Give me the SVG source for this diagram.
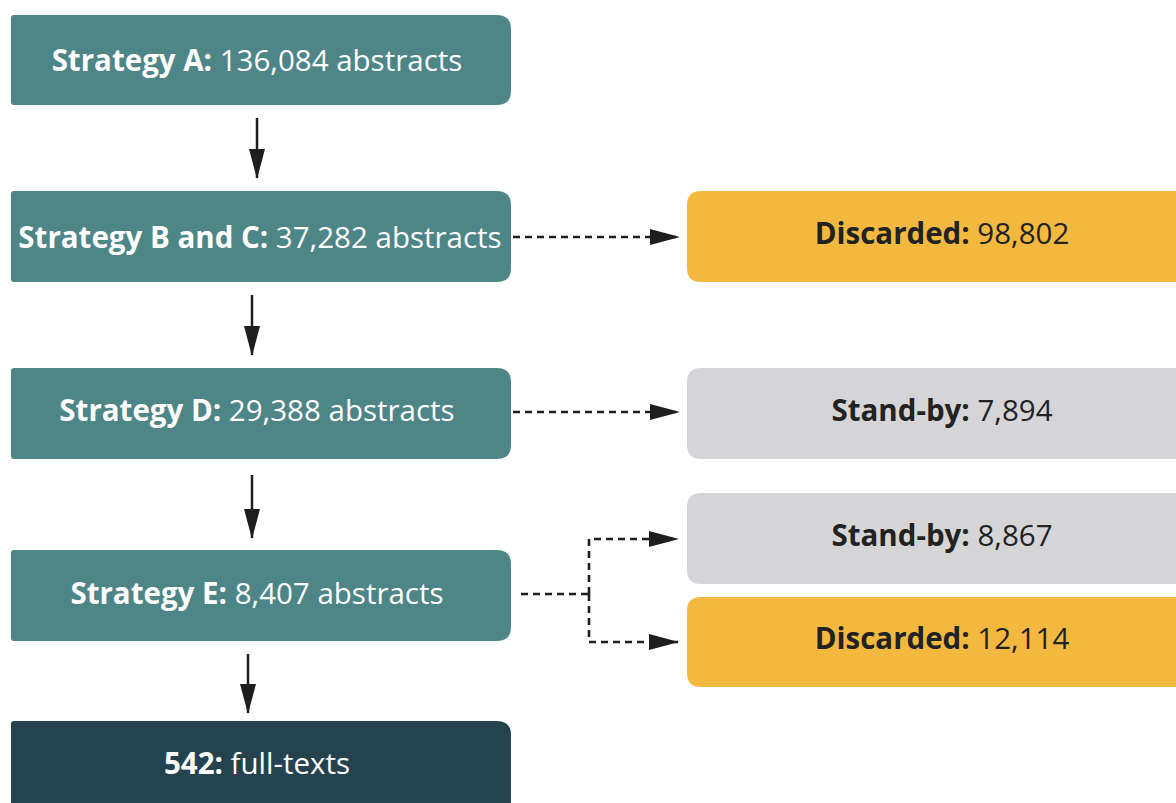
<svg xmlns="http://www.w3.org/2000/svg" width="1176" height="803" viewBox="0 0 1176 803">
<defs>
<style>
.teal{fill:#4E8587}
.dark{fill:#25434F}
.yellow{fill:#F3B93F}
.gray{fill:#D5D5D7}
.t{font-family:"Open Sans","Liberation Sans",sans-serif;font-size:29.5px;text-anchor:middle}
.w{fill:#FFFFFF}
.k{fill:#222222}
.b{font-weight:700}
.solid{stroke:#1E1E1E;stroke-width:2.5;fill:none}
.dash{stroke:#1E1E1E;stroke-width:2.6;fill:none;stroke-dasharray:7 5}
</style>
<marker id="ah" markerWidth="30" markerHeight="16" refX="29" refY="8" orient="auto" markerUnits="userSpaceOnUse">
<path d="M0,0 L30,8 L0,16 Z" fill="#1E1E1E"/>
</marker>
</defs>
<rect width="1176" height="803" fill="#FFFFFF"/>
<g id="node-a"><path class="teal" d="M14,15 H497 Q511,15 511,29 V91 Q511,105 497,105 H14 Q11,105 11,102 V18 Q11,15 14,15 Z"/><text class="t w" x="257" y="71"><tspan class="b">Strategy A:</tspan> 136,084 abstracts</text></g>
<g id="node-bc"><path class="teal" d="M14,191 H497 Q511,191 511,205 V268 Q511,282 497,282 H14 Q11,282 11,279 V194 Q11,191 14,191 Z"/><text class="t w" x="260" y="248"><tspan class="b">Strategy B and C:</tspan> 37,282 abstracts</text></g>
<g id="node-d"><path class="teal" d="M14,368 H497 Q511,368 511,382 V445 Q511,459 497,459 H14 Q11,459 11,456 V371 Q11,368 14,368 Z"/><text class="t w" x="257" y="421"><tspan class="b">Strategy D:</tspan> 29,388 abstracts</text></g>
<g id="node-e"><path class="teal" d="M14,550 H497 Q511,550 511,564 V627 Q511,641 497,641 H14 Q11,641 11,638 V553 Q11,550 14,550 Z"/><text class="t w" x="257" y="604"><tspan class="b">Strategy E:</tspan> 8,407 abstracts</text></g>
<g id="node-final"><path class="dark" d="M14,721 H497 Q511,721 511,735 V803 H11 V724 Q11,721 14,721 Z"/><text class="t w" x="257" y="774"><tspan class="b">542:</tspan> full-texts</text></g>
<g id="node-discarded1"><path class="yellow" d="M701,191 H1176 V282 H701 Q687,282 687,268 V205 Q687,191 701,191 Z"/><text class="t k" x="942" y="244"><tspan class="b">Discarded:</tspan> 98,802</text></g>
<g id="node-standby1"><path class="gray" d="M701,368 H1176 V459 H701 Q687,459 687,445 V382 Q687,368 701,368 Z"/><text class="t k" x="942" y="421"><tspan class="b">Stand-by:</tspan> 7,894</text></g>
<g id="node-standby2"><path class="gray" d="M701,493 H1176 V584 H701 Q687,584 687,570 V507 Q687,493 701,493 Z"/><text class="t k" x="942" y="546"><tspan class="b">Stand-by:</tspan> 8,867</text></g>
<g id="node-discarded2"><path class="yellow" d="M701,597 H1176 V687 H701 Q687,687 687,673 V611 Q687,597 701,597 Z"/><text class="t k" x="942" y="649"><tspan class="b">Discarded:</tspan> 12,114</text></g>
<g id="connectors">
<path class="solid" d="M257,118 V178" marker-end="url(#ah)"/>
<path class="solid" d="M252,295 V355" marker-end="url(#ah)"/>
<path class="solid" d="M252,475 V538" marker-end="url(#ah)"/>
<path class="solid" d="M248,654 V713" marker-end="url(#ah)"/>
<path class="dash" d="M513,237 H679" marker-end="url(#ah)"/>
<path class="dash" d="M513,412 H679" marker-end="url(#ah)"/>
<path class="dash" d="M521,594 H589"/>
<path class="dash" d="M589,594 V539 H678" marker-end="url(#ah)"/>
<path class="dash" d="M589,594 V642 H678" marker-end="url(#ah)"/>
</g>
</svg>
